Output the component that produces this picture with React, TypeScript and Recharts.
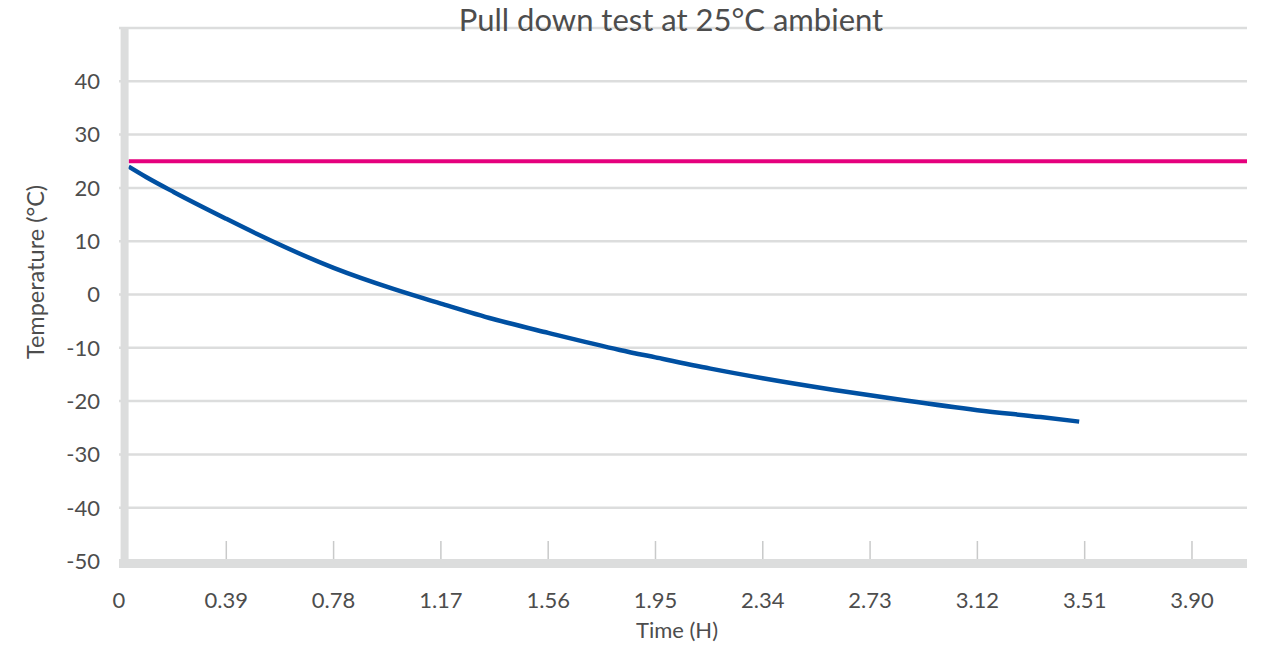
import { LineChart, Line, XAxis, YAxis, CartesianGrid } from "recharts";

// time in hours, temperature in °C
const timeTicks = [0, 0.39, 0.78, 1.17, 1.56, 1.95, 2.34, 2.73, 3.12, 3.51, 3.9];
const tempTicks = [-50, -40, -30, -20, -10, 0, 10, 20, 30, 40];

const pullDownTime = [0.035, 0.1, 0.2, 0.39, 0.5, 0.78, 1.0, 1.17, 1.36, 1.56, 1.82, 1.95, 2.15, 2.34, 2.6, 2.86, 3.12, 3.35, 3.49];
const pullDownTemp = [24.0, 22.0, 19.2, 14.2, 11.4, 5.0, 1.0, -1.7, -4.6, -7.2, -10.4, -11.8, -13.9, -15.7, -17.9, -19.9, -21.7, -23.0, -23.85];

const ambientTime = [0.035, 4.1];
const ambientTemp = [25, 25];

const pullDown = pullDownTime.map((t, i) => ({ t, v: pullDownTemp[i] }));
const ambient = ambientTime.map((t, i) => ({ t, v: ambientTemp[i] }));

const TEXT = "#4d4d4d";
const AXIS = "#dcdddd";

const fmtTime = (v: number) => (v === 0 ? "0" : v.toFixed(2));

function TimeTick({ x, y, payload }: any) {
    return (
        <g>
            {payload.value !== 0 && (
                <line x1={x} x2={x} y1={y - 20} y2={y - 2} stroke="#c9caca" strokeWidth={1.5} />
            )}
            <text x={x} y={y + 47} textAnchor="middle" fill={TEXT} fontSize={22}>
                {fmtTime(payload.value)}
            </text>
        </g>
    );
}

export default function App() {
    return (
        <div style={{ position: "absolute", left: 0, top: 0, fontFamily: "Lato, sans-serif" }}>
            <LineChart
                width={1265}
                height={645}
                data={pullDown}
                margin={{ top: 28, right: 18, bottom: 24, left: 0 }}
            >
                <CartesianGrid vertical={false} stroke={AXIS} strokeWidth={2.5} />
                <Line
                    data={ambient}
                    dataKey="v"
                    type="linear"
                    stroke="#e5007d"
                    strokeWidth={4}
                    dot={false}
                    isAnimationActive={false}
                />
                <Line
                    data={pullDown}
                    dataKey="v"
                    type="monotone"
                    stroke="#0050a2"
                    strokeWidth={4.5}
                    dot={false}
                    isAnimationActive={false}
                />
                <XAxis
                    dataKey="t"
                    type="number"
                    domain={[0, 4.1]}
                    ticks={timeTicks}
                    interval={0}
                    height={60}
                    tickSize={0}
                    tickMargin={0}
                    tickLine={false}
                    axisLine={{ stroke: AXIS, strokeWidth: 9, transform: "translate(0, 2.5)" }}
                    tick={<TimeTick />}
                />
                <YAxis
                    type="number"
                    domain={[-50, 50]}
                    ticks={tempTicks}
                    interval={0}
                    width={119}
                    tickSize={0}
                    tickMargin={19}
                    tickLine={false}
                    axisLine={{ stroke: AXIS, strokeWidth: 8, transform: "translate(5.6, 0)" }}
                    tick={{ fill: TEXT, fontSize: 22 }}
                />
                <text x={671} y={31} textAnchor="middle" fill={TEXT} fontSize={31}>
                    Pull down test at 25°C ambient
                </text>
                <text
                    x={44}
                    y={272}
                    transform="rotate(-90 44 272)"
                    textAnchor="middle"
                    fill={TEXT}
                    fontSize={23.5}
                >
                    Temperature (°C)
                </text>
                <text x={677} y={638} textAnchor="middle" fill={TEXT} fontSize={22}>
                    Time (H)
                </text>
            </LineChart>
        </div>
    );
}
